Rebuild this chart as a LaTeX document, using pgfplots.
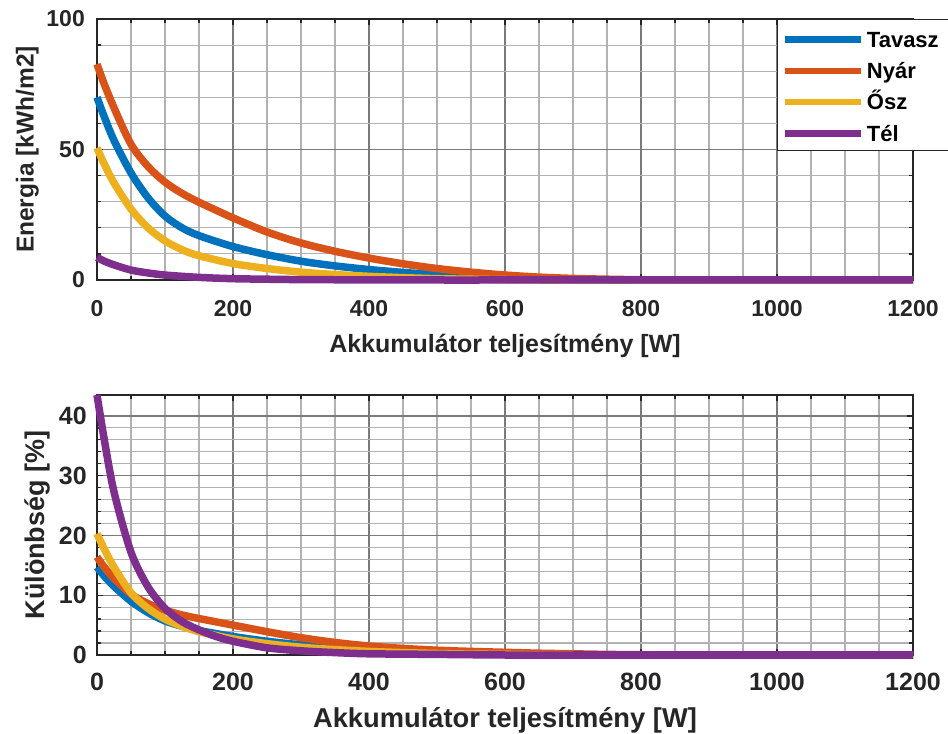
\documentclass[border=0pt]{standalone}
\usepackage{fontspec}
\setmainfont{Liberation Sans}
\usepackage{pgfplots}
\pgfplotsset{compat=1.18}

\definecolor{cTav}{HTML}{0072BD}
\definecolor{cNyar}{HTML}{D95319}
\definecolor{cOsz}{HTML}{EDB120}
\definecolor{cTel}{HTML}{7E2F8E}
\definecolor{axgray}{HTML}{262626}

\pgfplotsset{
  base/.style={
    scale only axis, width=816bp,
    xmin=0, xmax=1200,
    xtick={0,200,...,1200}, minor x tick num=3,
    grid=both,
    major grid style={draw=black!52, line width=1.4bp},
    minor grid style={draw=black!30, line width=1.1bp},
    axis line style={draw=axgray, line width=1.6bp},
    tick style={draw=axgray, line width=1.3bp},
    major tick length=6bp, minor tick length=4bp,
    tick align=inside,
    clip=false,
    /pgf/number format/assume math mode=true,
    /pgf/number format/1000 sep={},
    every tick label/.append style={text=axgray, inner sep=0pt},
    every axis label/.append style={text=axgray, inner sep=0pt},
  },
  curve/.style={#1, line width=7.5bp, line join=round, smooth, tension=0.5},
}

\begin{document}
\begin{tikzpicture}
\useasboundingbox (0,0) rectangle (948bp,734bp);

% Energy per season versus battery power
\begin{axis}[base,
  at={(97bp,454bp)}, anchor=south west, height=261bp,
  ymin=0, ymax=100, ytick={0,50,100}, minor y tick num=4,
  tick label style={font=\fontsize{23bp}{27bp}\selectfont\bfseries},
  xticklabel style={yshift=-20bp},
  yticklabel style={xshift=-12bp},
  xlabel={Akkumulátor teljesítmény [W]},
  ylabel={Energia [kWh/m2]},
  xlabel style={font=\fontsize{25bp}{30bp}\selectfont\bfseries,
    at={(axis description cs:0.5,-0.276)}, anchor=base},
  ylabel style={font=\fontsize{24.5bp}{30bp}\selectfont\bfseries,
    at={(axis description cs:-0.0778,0.5)}, anchor=base, rotate=0},
  legend style={at={(axis description cs:0.8333,1)}, anchor=north west,
    draw=axgray, line width=1bp, fill=white,
    font=\fontsize{22bp}{26bp}\selectfont\bfseries,
    inner xsep=4bp, inner ysep=3bp, row sep=0.3bp,
    nodes={inner xsep=3bp, inner ysep=0pt, text height=24.7bp, text depth=6.3bp}},
  legend cell align=left,
  legend image code/.code={\draw[#1, line width=6.5bp, smooth=false] (0bp,-1.5bp) -- (76bp,-1.5bp);},
]
\addplot[curve=cTav] coordinates {(0,70) (10,63) (25,53.5) (50,41) (75,31.5)
  (100,24.5) (125,20) (150,17) (200,12.8) (250,9.7) (300,7.2) (350,5.4)
  (400,4.0) (450,2.9) (500,2.0) (550,1.3) (600,0.7) (650,0.35) (700,0.1)
  (750,0) (800,0) (900,0) (1000,0) (1100,0) (1200,0)};
\addlegendentry{\makebox[85bp][l]{Tavasz}}
\addplot[curve=cNyar] coordinates {(0,82.7) (10,75.5) (25,66) (50,52) (75,43.5)
  (100,37.5) (125,33.2) (150,29.8) (200,23.8) (250,18.4) (300,14.2) (350,11.0)
  (400,8.4) (450,6.2) (500,4.4) (550,3.0) (600,1.9) (650,1.1) (700,0.6)
  (750,0.3) (800,0.1) (850,0) (900,0) (1000,0) (1100,0) (1200,0)};
\addlegendentry{\makebox[85bp][l]{Nyár}}
\addplot[curve=cOsz] coordinates {(0,50.6) (10,44.8) (25,37.2) (50,27.2) (75,20.0)
  (100,15.0) (125,11.6) (150,9.3) (200,6.3) (250,4.4) (300,3.0) (350,2.1)
  (400,1.4) (450,0.9) (500,0.5) (550,0.3) (600,0.1) (650,0) (700,0)
  (800,0) (900,0) (1000,0) (1100,0) (1200,0)};
\addlegendentry{\makebox[85bp][l]{Ősz}}
\addplot[curve=cTel] coordinates {(0,8.7) (10,7.3) (25,5.8) (50,3.8) (75,2.7)
  (100,1.9) (150,1.0) (200,0.5) (250,0.3) (300,0.15) (400,0.05) (500,0)
  (600,0) (700,0) (800,0) (900,0) (1000,0) (1100,0) (1200,0)};
\addlegendentry{\makebox[85bp][l]{Tél}}
\end{axis}

% Relative difference per season versus battery power
\begin{axis}[base,
  at={(97bp,79bp)}, anchor=south west, height=260bp,
  ymin=0, ymax=43.5, ytick={0,10,...,40}, minor y tick num=4,
  tick label style={font=\fontsize{25bp}{30bp}\selectfont\bfseries},
  xticklabel style={yshift=-18bp},
  yticklabel style={xshift=-10bp},
  xlabel={Akkumulátor teljesítmény [W]},
  ylabel={Különbség [\%]},
  xlabel style={font=\fontsize{27.3bp}{32bp}\selectfont\bfseries,
    at={(axis description cs:0.5,-0.277)}, anchor=base},
  ylabel style={font=\fontsize{27bp}{32bp}\selectfont\bfseries,
    at={(axis description cs:-0.0646,0.5)}, anchor=base, rotate=0},
]
\addplot[curve=cTav] coordinates {(0,14.7) (10,13.3) (25,11.5) (50,9.0) (75,7.1)
  (100,5.7) (125,4.8) (150,4.1) (200,3.1) (250,2.3) (300,1.7) (350,1.3)
  (400,1.0) (450,0.7) (500,0.5) (550,0.3) (600,0.2) (650,0.1) (700,0)
  (800,0) (900,0) (1000,0) (1100,0) (1200,0)};
\addplot[curve=cNyar] coordinates {(0,16.4) (10,14.8) (25,12.8) (50,10.2) (75,8.6)
  (100,7.5) (125,6.7) (150,6.1) (200,5.0) (250,3.9) (300,2.9) (350,2.1)
  (400,1.5) (450,1.1) (500,0.8) (550,0.6) (600,0.45) (650,0.3) (700,0.2)
  (750,0.1) (800,0.05) (850,0) (900,0) (1000,0) (1100,0) (1200,0)};
\addplot[curve=cOsz] coordinates {(0,20.3) (10,17.9) (25,14.7) (50,10.4) (75,7.8)
  (100,6.0) (125,4.8) (150,3.9) (200,2.7) (250,1.9) (300,1.3) (350,0.9)
  (400,0.6) (450,0.4) (500,0.25) (550,0.15) (600,0.1) (650,0) (700,0)
  (800,0) (900,0) (1000,0) (1100,0) (1200,0)};
\addplot[curve=cTel] coordinates {(0,43.5) (10,36.5) (25,27.3) (50,17.2) (75,11.4)
  (100,7.8) (125,5.6) (150,4.2) (175,3.1) (200,2.3) (250,1.2) (300,0.7)
  (350,0.4) (400,0.2) (500,0.1) (600,0) (700,0) (800,0) (900,0) (1000,0)
  (1100,0) (1200,0)};
\end{axis}
\end{tikzpicture}
\end{document}
